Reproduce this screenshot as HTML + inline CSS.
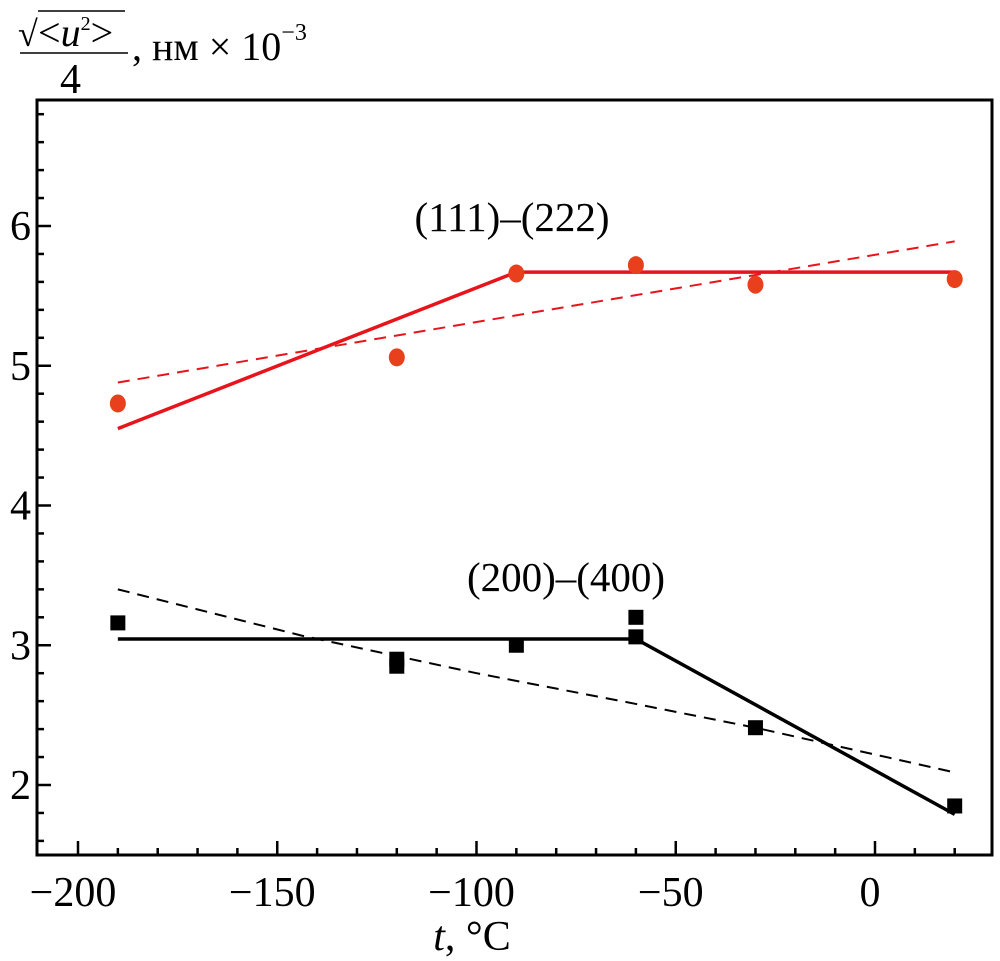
<!DOCTYPE html>
<html><head><meta charset="utf-8"><style>
html,body{margin:0;padding:0;background:#fff;width:1000px;height:961px;overflow:hidden}
svg text{font-family:"Liberation Serif",serif;fill:#000}
</style></head><body>
<svg id="chart" width="1000" height="961" viewBox="0 0 1000 961" xmlns="http://www.w3.org/2000/svg">
<g>
<text x="18" y="46" font-size="36">√</text>
<line x1="38" y1="11" x2="125" y2="11" stroke="#000" stroke-width="1.5"/>
<text x="38" y="46" font-size="40">&lt;<tspan font-style="italic">u</tspan><tspan font-size="20" dy="-16">2</tspan><tspan dy="16">&gt;</tspan></text>
<line x1="20" y1="53" x2="128" y2="53" stroke="#000" stroke-width="1.5"/>
<text x="60" y="93" font-size="42">4</text>
<text x="132" y="60" font-size="40">, нм × 10<tspan font-size="24" dy="-20">−3</tspan></text>
</g>
<g id="plot"></g>
<text x="472" y="950" font-size="42" text-anchor="middle"><tspan font-style="italic">t</tspan>, °C</text>
</svg>
<script>
const xTicks=[-200,-150,-100,-50,0];
const yTicks=[2,3,4,5,6];
const redT=[-190,-120,-90,-60,-30,20];
const redV=[4.73,5.06,5.66,5.72,5.58,5.62];
const redFitT=[-190,-90,20];
const redFitV=[4.55,5.67,5.67];
const redDashT=[-190,20];
const redDashV=[4.88,5.89];
const blkT=[-190,-120,-120,-90,-60,-60,-30,20];
const blkV=[3.16,2.90,2.85,3.00,3.20,3.06,2.41,1.85];
const blkFitT=[-190,-60,20];
const blkFitV=[3.045,3.045,1.79];
const blkDashT=[-190,-144,-100,-60,-30,20];
const blkDashV=[3.40,3.07,2.80,2.58,2.41,2.09];
const NS='http://www.w3.org/2000/svg';
const X=t=>875+t*3.985;
const Y=v=>785-(v-2)*139.75;
const g=document.getElementById('plot');
function mk(tag,a){const e=document.createElementNS(NS,tag);for(const k in a)e.setAttribute(k,a[k]);g.appendChild(e);return e;}
let e;
e=mk('rect',{x:37,y:100,width:955,height:755,fill:'none',stroke:'#000','stroke-width':3});


for(let t=-200;t<=20;t+=10){const maj=t%50===0;
e=mk('line',{x1:X(t),x2:X(t),y1:855,y2:maj?841:848,stroke:'#000','stroke-width':2.5});

}
for(let i=0;i<=26;i++){const v=1.6+i*0.2;const maj=Math.abs(v-Math.round(v))<1e-6;
e=mk('line',{x1:37,x2:maj?51:44,y1:Y(v),y2:Y(v),stroke:'#000','stroke-width':2.5});

}
xTicks.forEach(t=>{e=mk('text',{x:X(t)-5,y:906,'font-size':42,'text-anchor':'middle'});e.textContent=(t<0?'−':'')+Math.abs(t);

});
yTicks.forEach(v=>{e=mk('text',{x:31,y:Y(v)+14,'font-size':42,'text-anchor':'end'});e.textContent=v;

});
function line(T,V,col,dash,name){const pts=T.map((t,i)=>X(t)+','+Y(V[i])).join(' ');
e=mk('polyline',{points:pts,fill:'none',stroke:col,'stroke-width':dash?2:3.5,'stroke-dasharray':dash?'12,8':'none'});

}
line(redDashT,redDashV,'#e8141c',true,'red-trend-dashed');
line(redFitT,redFitV,'#e8141c',false,'red-fit-line');
line(blkDashT,blkDashV,'#000',true,'black-trend-dashed');
line(blkFitT,blkFitV,'#000',false,'black-fit-line');
redT.forEach((t,i)=>{e=mk('ellipse',{cx:X(t),cy:Y(redV[i]),rx:8,ry:9,fill:'#e8401c'});

});
blkT.forEach((t,i)=>{e=mk('rect',{x:X(t)-7.5,y:Y(blkV[i])-7.5,width:15,height:15,fill:'#000'});

});
e=mk('text',{x:512,y:231,'font-size':41,'text-anchor':'middle'});e.textContent='(111)–(222)';


e=mk('text',{x:566,y:591,'font-size':41,'text-anchor':'middle'});e.textContent='(200)–(400)';


</script>
</body></html>
